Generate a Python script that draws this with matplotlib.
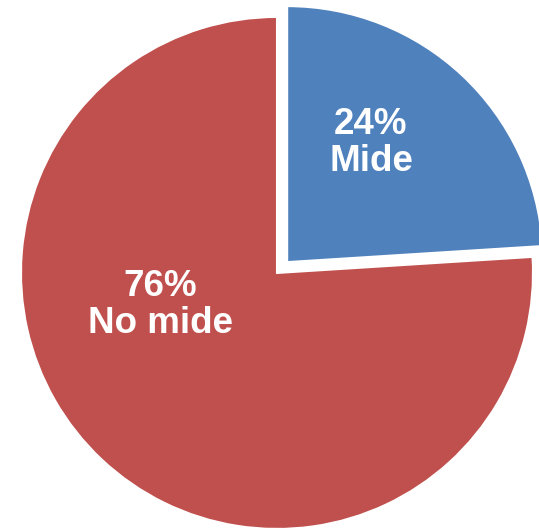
import matplotlib.pyplot as plt

labels = ["Mide", "No mide"]
shares = [24, 76]
colors = ["#4F81BD", "#C0504D"]
explode = [0.058, 0]
# where the labels sit, in pie units (radius 1)
label_pos = [(0.367, 0.508), (-0.457, -0.125)]

fig = plt.figure(figsize=(5.39, 5.29), dpi=100)
ax = fig.add_axes([0, 0, 1, 1])

wedges, texts = ax.pie(
    shares,
    colors=colors,
    explode=explode,
    startangle=90,
    counterclock=False,
    wedgeprops=dict(edgecolor="white", linewidth=1.5),
)

for (x, y), name, val in zip(label_pos, labels, shares):
    ax.text(x, y, f"{val}%\n{name}", ha="center", va="center",
            color="white", fontsize=26.5, fontweight="bold",
            family="Liberation Sans", linespacing=1.1)

ax.set_aspect("equal")
ax.set_xlim(-1.082, 1.0234)
ax.set_ylim(-1.0, 1.066)
ax.axis("off")

fig.savefig("out.png", dpi=100)
